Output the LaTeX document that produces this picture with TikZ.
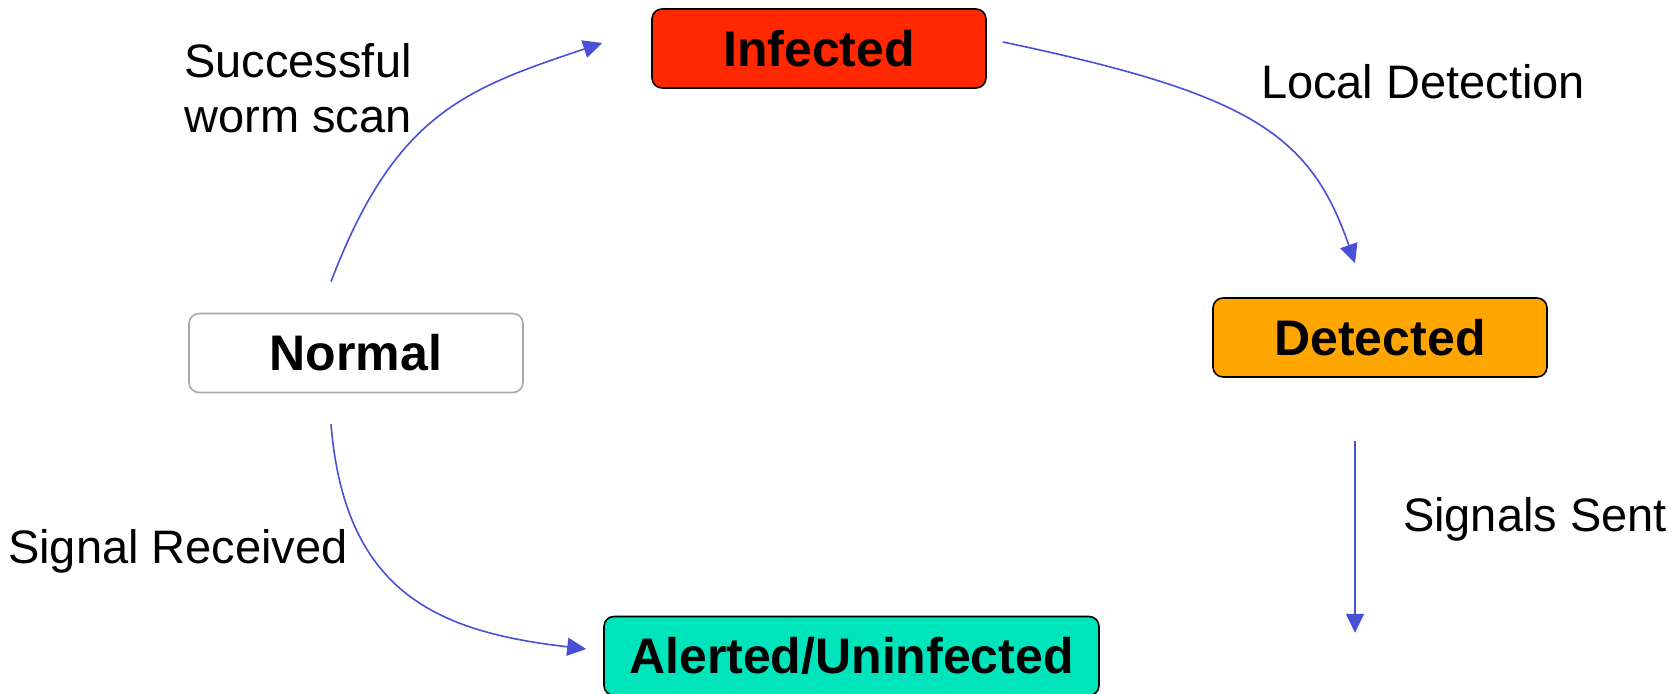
\documentclass[tikz,border=0pt]{standalone}
\usepackage{fontspec}
\setmainfont{Liberation Sans}
\usetikzlibrary{arrows.meta,calc,positioning}

\definecolor{infectedred}{RGB}{255,40,0}
\definecolor{detectedorange}{RGB}{255,166,0}
\definecolor{alertedgreen}{RGB}{0,228,188}
\definecolor{normalgray}{RGB}{170,170,170}
\definecolor{linkblue}{RGB}{72,80,214}

\begin{document}
\begin{tikzpicture}
[x=0.5pt, y=0.5pt,
% STYLES
% The statebox style is used for the states of a host
statebox/.style={rectangle, draw, rounded corners=5pt, line width=0.8pt, inner sep=0pt, minimum width=167pt, minimum height=39.5pt, font=\fontsize{25}{30}\selectfont\bfseries},
% Transition texts
translabel/.style={inner sep=0pt, align=center, font=\fontsize{23.5}{27.5}\selectfont},
link/.style={-{Triangle[length=9.5pt,width=9pt]}, draw=linkblue, line width=0.8pt}]

\useasboundingbox (0,0) rectangle (1680,694);

% States
\node [statebox, fill=infectedred] (infected) at (819,645.5) {Infected};
\node [statebox, draw=normalgray, fill=white] (normal) at (356,341) {Normal};
\node [statebox, fill=detectedorange] (detected) at (1380,356.5) {Detected};
\node [statebox, fill=alertedgreen, minimum width=247.5pt] (alerted) at (851.5,38) {Alerted/Uninfected};

% Transition texts
\node [translabel] (scan-label) at (298,606) {Successful\\worm scan};
\node [translabel] (local-label) at (1423,612) {Local Detection};
\node [translabel] (sent-label) at (1535,175) {Signals Sent};
\node [translabel] (received-label) at (178,143) {Signal Received};

%%%%%%%%%%%%%%%%

\coordinate (scan-start) at ($(normal.north)+(-25,31)$);
\coordinate (scan-end) at ($(infected.west)+(-49,5.5)$);
\coordinate (local-start) at ($(infected.east)+(16,6.5)$);
\coordinate (local-end) at ($(detected.north)+(-25,34)$);
\coordinate (sent-start) at ($(detected.south)+(-25,-63)$);
\coordinate (sent-end) at ($(detected.south)+(-25,-255)$);
\coordinate (received-start) at ($(normal.south)+(-25,-31)$);
\coordinate (received-end) at ($(alerted.west)+(-17,7)$);

\draw[link] (scan-start) .. controls +(64,168) and +(-137,-46) .. (scan-end);
\draw[link] (local-start) .. controls +(247,-52) and +(-45,130) .. (local-end);
\draw[link] (sent-start) -- (sent-end);
\draw[link] (received-start) .. controls +(14,-170) and +(-147,17) .. (received-end);

\end{tikzpicture}
\end{document}
